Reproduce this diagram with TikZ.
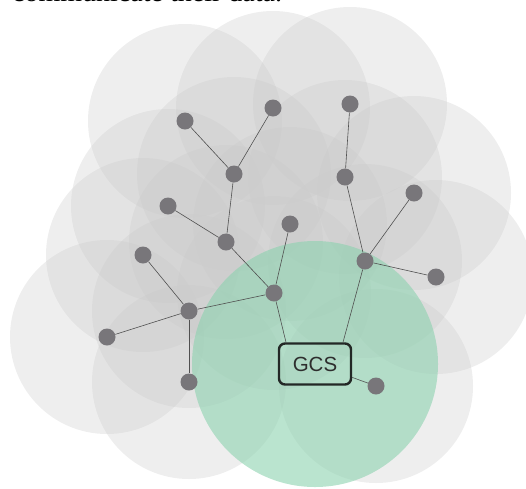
\documentclass[tikz,border=0pt]{standalone}
\usepackage{fontspec}
\setmainfont{Liberation Serif}
\newfontfamily\gcsfont{Liberation Sans}
\definecolor{covgray}{RGB}{200,200,200}
\definecolor{covgreen}{RGB}{140,210,175}
\definecolor{dotgray}{RGB}{120,118,122}
\definecolor{linkgray}{RGB}{80,80,80}
\definecolor{boxline}{RGB}{35,40,38}
\begin{document}
\begin{tikzpicture}[x=1pt,y=-1pt,
  cov/.style={fill=covgray, fill opacity=0.3},
  gcov/.style={fill=covgreen, fill opacity=0.6},
  dot/.style={circle, fill=dotgray, inner sep=0pt, minimum size=17pt},
  link/.style={draw=linkgray, line width=0.6pt},
  gcsbox/.style={draw=boxline, line width=2.4pt, rounded corners=6pt,
    minimum width=72pt, minimum height=41pt, inner sep=0pt,
    font=\gcsfont\fontsize{20.5}{24}\selectfont, text=black!82}]
\useasboundingbox (0,0) rectangle (526,488);
\clip (0,0) rectangle (526,488);
% cropped caption line at the very top
\node[anchor=base west, inner sep=0pt, font=\fontsize{28}{30}\selectfont] (cap) at (12,1.0) {communicate their data.};
% positions
\coordinate (p1) at (185,121);
\coordinate (p2) at (273,108);
\coordinate (p3) at (234,174);
\coordinate (p4) at (350,104);
\coordinate (p5) at (345,177);
\coordinate (p6) at (168,206);
\coordinate (p7) at (226,242);
\coordinate (p8) at (290,224);
\coordinate (p9) at (414,193);
\coordinate (p10) at (143,255);
\coordinate (p11) at (365,261);
\coordinate (p12) at (436,277);
\coordinate (p13) at (274,293);
\coordinate (p14) at (189,311);
\coordinate (p15) at (107,337);
\coordinate (p16) at (189,382);
\coordinate (p17) at (376,386);
\coordinate (pg) at (315,364);
% coverage circles
\foreach \p in {p1,p2,p3,p4,p5,p6,p7,p8,p9,p10,p11,p12,p13,p14,p15,p16,p17}
  \fill[cov] (\p) circle[radius=97pt];
\fill[gcov] (pg) circle[radius=123pt];
% nodes
\foreach \i in {1,...,17}
  \node[dot] (n\i) at (p\i) {};
\node[gcsbox] (gcs) at (pg) {GCS};
% links
\draw[link] (n1) -- (n3);
\draw[link] (n2) -- (n3);
\draw[link] (n3) -- (n7);
\draw[link] (n6) -- (n7);
\draw[link] (n7) -- (n13);
\draw[link] (n8) -- (n13);
\draw[link] (n14) -- (n13);
\draw[link] (n10) -- (n14);
\draw[link] (n15) -- (n14);
\draw[link] (n14) -- (n16);
\draw[link] (n13) -- (gcs.north west -| 286,0);
\draw[link] (n4) -- (n5);
\draw[link] (n5) -- (n11);
\draw[link] (n9) -- (n11);
\draw[link] (n11) -- (n12);
\draw[link] (n11) -- (gcs.north east -| 343,0);
\draw[link] (gcs) -- (n17);
\end{tikzpicture}
\end{document}
